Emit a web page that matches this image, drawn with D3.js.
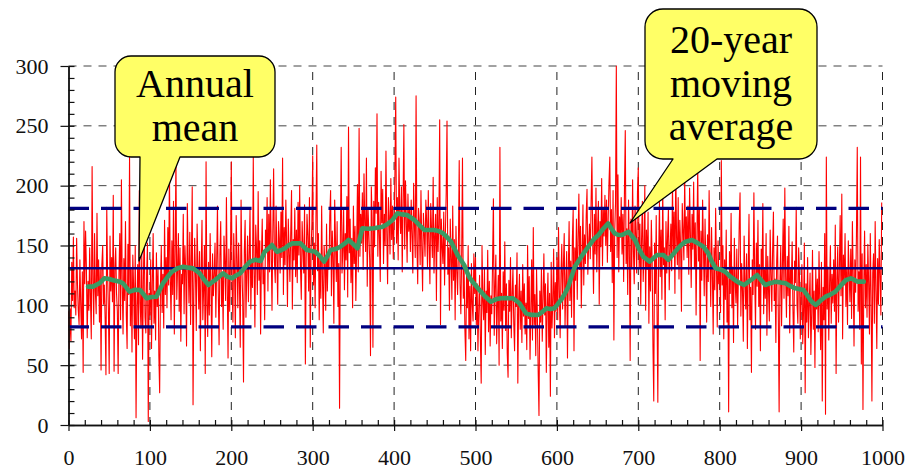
<!DOCTYPE html>
<html><head><meta charset="utf-8">
<script src="https://cdn.jsdelivr.net/npm/d3@7"></script>
<style>body{margin:0;background:#fff}svg{display:block}
text{font-family:"Liberation Serif","Tinos","DejaVu Serif","Times New Roman",serif}</style>
</head><body><svg id="c" width="905" height="470"></svg>
<script>
// Annual mean values, years 0..999 (20 per row)
const annualMean = [
95,64,97,70,136,104,157,98,112,92,156,118,96,84,138,101,72,128,44,170,
118,162,131,73,120,96,148,105,72,216,121,84,160,112,93,177,108,138,86,130,
46,134,150,101,117,89,42,182,126,97,43,158,112,140,103,192,45,131,148,110,
95,43,127,160,88,205,118,76,139,104,170,92,64,151,109,224,83,130,61,142,
115,72,150,6,98,134,67,196,102,81,143,55,120,168,90,77,126,152,3,110,
92,138,64,120,160,85,112,71,144,99,130,58,27,117,150,94,126,81,171,109,
140,98,165,117,213,122,88,154,109,187,76,143,224,105,131,160,95,148,70,126,
118,176,93,150,128,66,185,137,102,161,84,140,199,17,112,156,125,79,168,133,
97,145,62,128,171,88,113,150,43,220,101,74,136,92,160,118,57,143,108,126,
152,90,134,183,111,67,142,170,99,125,80,158,137,104,190,118,56,147,95,139,
220,114,86,160,129,73,175,141,98,152,119,65,188,132,104,36,146,171,90,127,
158,103,142,180,97,136,115,224,130,82,167,148,109,195,121,154,76,139,172,118,
131,88,163,145,190,112,176,128,205,150,96,162,214,137,119,183,142,101,170,156,
127,178,140,223,109,165,134,188,151,99,172,146,120,160,196,97,155,138,181,124,
163,119,186,142,200,131,105,170,148,127,184,51,139,176,158,112,190,65,145,168,
225,117,152,98,173,234,129,160,88,141,106,183,122,77,150,135,96,168,112,143,
130,175,196,108,162,141,85,188,154,120,170,99,135,14,158,232,127,146,180,113,
160,138,191,107,249,144,172,119,156,98,183,135,166,104,150,201,128,248,141,176,
152,194,130,210,168,145,223,116,181,160,138,58,199,172,65,187,149,215,177,260,
141,186,158,120,212,169,197,135,176,150,229,162,118,190,174,143,206,155,183,139,
168,210,274,152,190,138,223,176,160,199,128,185,251,147,204,171,136,193,162,181,
145,188,159,127,202,166,140,275,153,118,181,170,134,196,149,112,177,160,141,188,
170,132,196,151,118,185,163,140,207,127,158,176,104,190,145,168,255,84,172,149,
135,178,117,160,194,254,126,148,96,172,140,105,183,121,155,88,166,130,109,147,
221,118,93,140,223,106,132,79,54,125,98,150,72,116,62,135,101,87,143,110,
140,84,118,62,97,125,71,35,150,103,88,131,59,112,94,146,78,120,66,108,
93,137,189,75,116,142,68,101,125,50,232,87,110,64,128,96,153,79,118,60,
40,121,95,140,73,108,131,85,62,117,99,144,35,103,126,80,112,69,134,91,
118,76,102,63,150,89,124,55,97,138,71,165,84,109,58,130,92,45,8,112,
86,131,70,105,143,92,118,44,99,127,65,110,24,136,81,104,147,73,119,95,
140,88,165,112,73,126,151,97,134,160,82,119,145,56,128,170,104,137,90,155,
180,62,148,121,172,105,156,193,130,166,98,142,184,117,159,135,175,197,126,151,
168,139,185,224,152,110,176,143,198,128,164,187,101,170,149,206,133,180,158,192,
150,188,136,172,203,224,145,180,119,196,71,162,185,300,140,209,128,174,157,190,
143,176,120,197,246,135,164,109,188,150,54,172,131,205,146,118,183,160,127,195,
215,132,168,101,155,187,120,144,200,96,163,130,178,85,149,112,171,138,66,20,
152,110,175,96,19,141,186,124,163,105,197,134,148,88,170,127,159,181,113,146,
168,129,201,145,178,110,216,157,134,190,122,171,149,95,185,163,138,207,152,174,
140,183,126,198,160,115,176,147,203,131,169,92,155,216,137,180,54,162,121,188,
150,108,172,131,86,159,120,196,143,99,165,127,76,148,113,181,135,82,154,118,
131,94,221,117,150,72,138,105,163,86,124,11,145,110,177,98,132,69,156,119,
102,147,83,126,168,194,91,135,112,70,158,120,97,143,64,129,176,88,115,44,
138,109,194,125,80,152,116,171,99,134,62,147,121,185,93,130,106,160,75,141,
112,87,163,128,95,146,178,104,122,69,137,158,92,11,119,150,83,131,172,106,
198,124,90,141,108,166,77,130,115,153,96,61,137,119,182,101,85,148,126,72,
110,134,68,95,152,27,118,86,140,73,101,127,59,93,146,80,112,48,131,97,
122,78,145,104,63,136,20,115,88,160,9,224,97,132,71,118,150,85,126,102,
138,95,167,43,121,149,86,130,175,108,193,72,142,117,160,99,131,84,154,126,
103,147,89,170,124,66,138,111,159,232,95,128,80,224,51,143,13,117,162,98,
134,90,151,118,76,160,108,20,127,143,85,170,112,64,139,101,155,123,92,186
];

// 20-year moving average
const maYears = [24,30,38,44,50,55,62,67,75,82,88,96,102,108,116,122,127,134,141,147,153,161,166,172,180,185,190,195,201,206,211,217,223,229,236,241,246,250,256,261,266,270,275,285,293,303,309,314,318,322,328,334,340,344,350,355,361,368,375,386,392,398,404,410,416,425,431,437,443,449,455,460,465,470,478,486,492,497,503,511,519,525,531,538,546,554,562,569,577,583,587,592,597,605,610,614,618,622,630,640,645,651,657,663,667,671,675,680,688,696,701,706,714,718,723,731,737,742,747,752,758,766,773,780,786,790,795,801,807,813,819,825,830,834,838,846,851,856,862,869,875,881,887,893,903,908,913,918,924,930,936,942,948,955,961,966,969,977];
const maValues = [115.6,115.6,118.4,122.6,122,121,120,118.4,111.4,113,112.8,105.9,107,107.2,118.4,124,128,131,132.3,131.5,130.9,126.8,122,117,121,124,126.8,124,122.6,125,126.8,132,136.5,138,137,144.8,147.7,150.4,144.8,146,147.7,150,151.8,151.8,146.2,144.8,141,136.5,141,146.2,147,149,152,154.6,151,147.7,164.4,164,164.4,165.7,168,171.3,176.9,176,175.5,171.3,167,163,163,163,162,160.2,157,153.2,142,133.7,124,119,114.2,108,103,105,105.9,106,105.9,101.7,93.3,92,91.9,95,97.5,97,97.5,104.5,110,115.6,124,132.3,140.7,150.4,155,158.8,164,168.5,164,160.2,159,158.8,161.5,154.6,147,140.7,136.5,139,142,142,138,142,146.2,150,153.2,154.6,152,149,143.5,137,131,130,128,124,121,118.5,117,119,121,125.3,121,117,118.5,119.8,119,118.4,116,114.2,112.8,108,103,100.3,104,107.2,109,111.4,116,121,122.6,121,119.8,119.8];

const longTermMean = 131;
const spreadLevels = [82, 181];
const xTickValues = [0,100,200,300,400,500,600,700,800,900,1000];
const xMinorTicks = d3.range(0, 1001, 20);
const yTickValues = [0,50,100,150,200,250,300];
const yMinorTicks = d3.range(0, 301, 10);
const labelAnnual = ["Annual", "mean"];
const labelMoving = ["20-year", "moving", "average"];

const svg = d3.select("#c");
const x = d3.scaleLinear().domain([0, 1000]).range([68.5, 882.5]);
const y = d3.scaleLinear().domain([0, 300]).range([425, 66]);
const serif = '"Liberation Serif","Tinos","DejaVu Serif","Times New Roman",serif';

svg.append("rect").attr("width",905).attr("height",470).attr("fill","#fff");

// grid
const grid = svg.append("g");
grid.selectAll("line.h").data(yTickValues.filter(v => v > 0)).join("line")
  .attr("x1", x(0)).attr("x2", x(1000)).attr("y1", d => y(d)).attr("y2", d => y(d))
  .attr("stroke", "#444").attr("stroke-width", 1).attr("stroke-dasharray", "8,7");
grid.selectAll("line.v").data(xTickValues.filter(v => v > 0)).join("line")
  .attr("y1", y(0)).attr("y2", y(300)).attr("x1", d => x(d)).attr("x2", d => x(d))
  .attr("stroke", "#222").attr("stroke-width", 1).attr("stroke-dasharray", "8,7");

// annual series
const line = d3.line().x((d, i) => x(i)).y(d => y(d));
svg.append("path").datum(annualMean).attr("d", line)
  .attr("fill", "none").attr("stroke", "#ff0000").attr("stroke-width", 1.1)
  .attr("stroke-linejoin", "round");

// mean and spread
svg.append("line").attr("x1", x(0)).attr("x2", x(1000))
  .attr("y1", y(longTermMean)).attr("y2", y(longTermMean))
  .attr("stroke", "#000080").attr("stroke-width", 2.6);
svg.selectAll("line.sd").data(spreadLevels).join("line")
  .attr("x1", x(0)).attr("x2", x(1000)).attr("y1", d => y(d)).attr("y2", d => y(d))
  .attr("stroke", "#000080").attr("stroke-width", 3.2).attr("stroke-dasharray", "20.5,12");

// moving average
const maLine = d3.line().x((d, i) => x(maYears[i])).y(d => y(d));
svg.append("path").datum(maValues).attr("d", maLine)
  .attr("fill", "none").attr("stroke", "#3a9a64").attr("stroke-width", 4.6)
  .attr("stroke-linejoin", "round").attr("stroke-linecap", "round");

// axes
function styleAxis(g) {
  g.selectAll("path.domain").attr("stroke", "#111").attr("stroke-width", 1.4);
  g.selectAll("line").attr("stroke", "#111").attr("stroke-width", 1.2);
  g.selectAll("text").attr("font-family", serif).style("font-family", serif)
    .attr("font-size", 22).attr("fill", "#111");
}
svg.append("g").attr("transform", `translate(0,${y(0)})`)
  .call(d3.axisTop(x).tickValues(xMinorTicks).tickSize(5).tickSizeOuter(0).tickFormat(""))
  .call(styleAxis);
svg.append("g").attr("transform", `translate(0,${y(0)})`)
  .call(d3.axisBottom(x).tickValues(xTickValues).tickSize(6).tickSizeOuter(0).tickPadding(18.5).tickFormat(d3.format("d")))
  .call(styleAxis);
svg.append("g").attr("transform", `translate(${x(0)},0)`)
  .call(d3.axisRight(y).tickValues(yMinorTicks).tickSize(6).tickSizeOuter(0).tickFormat(""))
  .call(styleAxis);
svg.append("g").attr("transform", `translate(${x(0)},0)`)
  .call(d3.axisLeft(y).tickValues(yTickValues).tickSize(8).tickSizeOuter(0).tickPadding(12).tickFormat(d3.format("d")))
  .call(styleAxis);

// callouts
function callout(x0, y0, x1, y1, r, baseL, baseR, tipX, tipY) {
  const p = d3.path();
  p.moveTo(x0 + r, y0);
  p.lineTo(x1 - r, y0);
  p.arcTo(x1, y0, x1, y0 + r, r);
  p.lineTo(x1, y1 - r);
  p.arcTo(x1, y1, x1 - r, y1, r);
  p.lineTo(baseR, y1);
  p.lineTo(tipX, tipY);
  p.lineTo(baseL, y1);
  p.lineTo(x0 + r, y1);
  p.arcTo(x0, y1, x0, y1 - r, r);
  p.lineTo(x0, y0 + r);
  p.arcTo(x0, y0, x0 + r, y0, r);
  p.closePath();
  return p.toString();
}
function drawCallout(shape, lines, cx, firstBaseline, step) {
  const g = svg.append("g");
  g.append("path").attr("d", shape).attr("fill", "#ffff66")
    .attr("stroke", "#000").attr("stroke-width", 1.3).attr("stroke-linejoin", "round");
  g.selectAll("text").data(lines).join("text")
    .attr("x", cx).attr("y", (d, i) => firstBaseline + i * step)
    .attr("text-anchor", "middle").style("font-family", serif).attr("font-size", 40)
    .attr("fill", "#000").text(d => d);
}
drawCallout(callout(115, 56, 275, 157, 16, 140, 180, 139, 261), labelAnnual, 195, 97, 43.5);
drawCallout(callout(645, 9, 817, 159, 18, 673, 717, 630, 223), labelMoving, 731, 53, 43.5);
</script></body></html>
